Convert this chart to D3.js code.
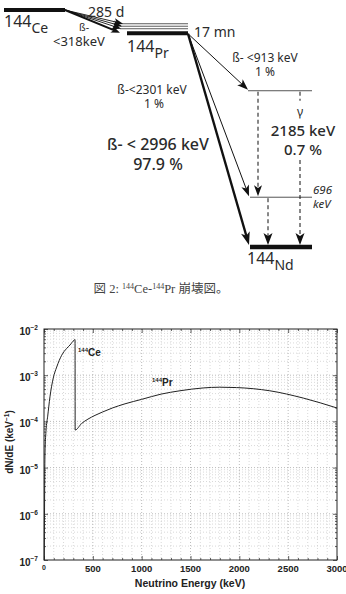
<!DOCTYPE html>
<html><head><meta charset="utf-8">
<script src="https://cdn.jsdelivr.net/npm/d3@7"></script>
<style>body{margin:0;background:#fff}svg{display:block}</style>
</head><body>
<script>
// ---------- data ----------
// decay scheme levels (keV above 144Nd ground state)
const levelNames = ["144Ce", "144Pr", "2185", "696", "144Nd"];
const levelEnergies = [3314, 2996, 2185, 696, 0];
// spectrum (Neutrino energy keV, dN/dE keV^-1)
const energies = [3, 10, 20, 38, 61, 95, 130, 181, 232, 266, 307, 318,
  319, 385, 450, 522, 600, 700, 829, 1000, 1200, 1392, 1630, 1800, 1972, 2312, 2654, 3000];
const dNdE = [1e-7, 2e-5, 6e-5, 1.3e-4, 3.4e-4, 8.7e-4, 1.5e-3, 2.7e-3, 3.8e-3, 4.5e-3, 5.7e-3, 5.9e-3,
  6.5e-5, 9.0e-5, 1.12e-4, 1.35e-4, 1.6e-4, 1.95e-4, 2.4e-4, 3.0e-4, 3.9e-4, 4.6e-4, 5.3e-4, 5.5e-4, 5.4e-4, 4.6e-4, 3.2e-4, 1.95e-4];
const xTicks = [0, 500, 1000, 1500, 2000, 2500, 3000];
const yTickExps = [-2, -3, -4, -5, -6, -7];

const W = 346, H = 594;
const svg = d3.select("body").append("svg").attr("width", W).attr("height", H);
const ink = "#2a2a2a";
const dfont = "'Noto Sans', 'DejaVu Sans', sans-serif";

// ---------- decay scheme ----------
const ey = d3.scaleLinear().domain([0, 3314]).range([247, 10]);
const g = svg.append("g");

function arrow(x1, y1, x2, y2, sw, hl, hw, dash) {
  const dx = x2 - x1, dy = y2 - y1, L = Math.hypot(dx, dy);
  const ux = dx / L, uy = dy / L;
  const bx = x2 - ux * hl, by = y2 - uy * hl;
  g.append("line").attr("x1", x1).attr("y1", y1).attr("x2", x2 - ux * hl * 0.6).attr("y2", y2 - uy * hl * 0.6)
    .attr("stroke", "#111").attr("stroke-width", sw).attr("stroke-dasharray", dash || null);
  g.append("path").attr("d", `M${x2},${y2}L${bx - uy * hw / 2},${by + ux * hw / 2}L${bx + ux * hl * 0.25},${by + uy * hl * 0.25}L${bx + uy * hw / 2},${by - ux * hw / 2}Z`)
    .attr("fill", "#111");
}
function hline(x1, x2, y, sw, col) {
  g.append("line").attr("x1", x1).attr("x2", x2).attr("y1", y).attr("y2", y)
    .attr("stroke", col).attr("stroke-width", sw);
}
const yCe = ey(levelEnergies[0]), yPr = ey(levelEnergies[1]), y2185 = ey(levelEnergies[2]),
      y696 = ey(levelEnergies[3]), yNd = ey(levelEnergies[4]);

// Ce level
hline(4, 65, yCe, 4, "#111");
// Pr levels (thin excited + thick ground)
[yPr - 9, yPr - 6.5, yPr - 4].forEach(y => hline(120, 188, y, 0.8, "#333"));
hline(127, 188, yPr + 0.5, 4, "#111");
// Ce -> Pr fan
[yPr - 9, yPr - 6.5, yPr - 4, yPr].forEach((y, i) => {
  arrow(65, yCe, 123 - i, y, i === 3 ? 2 : 0.9, 9, 7);
});
// Nd side levels
hline(248, 312, y2185, 1, "#555");
hline(250, 312, y696, 1, "#555");
hline(250, 312, yNd, 4.5, "#111");
// beta arrows from Pr
arrow(188, yPr + 1, 248, y2185 - 1, 1, 11, 8);
arrow(188, yPr + 1, 249, y696 - 1, 1, 11, 8);
arrow(188, yPr + 1, 249, yNd - 2, 2.4, 13, 9);
// gamma arrows
arrow(258, y2185 + 1, 258, y696 - 1, 1, 11, 8, "4,3");
g.append("line").attr("x1", 300).attr("x2", 300).attr("y1", y2185 + 1).attr("y2", y2185 + 10)
  .attr("stroke", "#111").attr("stroke-dasharray", "4,3");
arrow(300, 160, 300, yNd - 2, 1, 12, 9, "4,3");
arrow(268, y696 + 1, 268, yNd - 2, 1, 12, 9, "4,3");

function txt(x, y, s, size, opts = {}) {
  return g.append("text").attr("x", x).attr("y", y).text(s)
    .attr("font-family", dfont).attr("font-size", size).attr("fill", ink)
    .attr("text-anchor", opts.anchor || "start").attr("font-weight", opts.weight || 400)
    .attr("font-style", opts.italic ? "italic" : null);
}
function nuc(x, y, a, el) {
  const t = g.append("text").attr("x", x).attr("y", y).attr("font-family", dfont).attr("fill", ink);
  t.append("tspan").attr("font-size", 16).text(a);
  t.append("tspan").attr("font-size", 14).attr("dy", 6).text(el);
}
nuc(4, 27, "144", "Ce");
nuc(127, 52, "144", "Pr");
nuc(247, 264, "144", "Nd");
txt(88, 17, "285 d", 14);
txt(79, 31, "ß-", 10.5);
txt(53, 46, "<318keV", 13);
txt(194, 37, "17 mn", 14);
txt(265, 62, "ß- <913 keV", 12, {anchor: "middle"});
txt(265, 76, "1 %", 12, {anchor: "middle"});
txt(152, 94, "ß-<2301 keV", 12, {anchor: "middle"});
txt(154, 108, "1 %", 12, {anchor: "middle"});
txt(158, 150, "ß- < 2996 keV", 16, {anchor: "middle", weight: 500});
txt(158, 170, "97.9 %", 16, {anchor: "middle", weight: 500});
txt(300, 116, "γ", 12, {anchor: "middle"});
txt(303, 136, "2185 keV", 15, {anchor: "middle", weight: 500});
txt(303, 155, "0.7 %", 15, {anchor: "middle", weight: 500});
txt(313, 194, "696", 11.5, {italic: true});
txt(313, 208, "keV", 11.5, {italic: true});

// caption
const cap = svg.append("text").attr("x", 161).attr("y", 293).attr("text-anchor", "middle")
  .attr("font-family", "'Liberation Serif', 'Noto Sans CJK JP', serif").attr("font-size", 12.5).attr("fill", "#444");
cap.append("tspan").text("図 2: ");
cap.append("tspan").attr("font-size", 8).attr("dy", -4).text("144");
cap.append("tspan").attr("dy", 4).text("Ce-");
cap.append("tspan").attr("font-size", 8).attr("dy", -4).text("144");
cap.append("tspan").attr("dy", 4).text("Pr 崩壊図。");

// ---------- spectrum chart ----------
const x = d3.scaleLinear().domain([0, 3000]).range([44, 337]);
const y = d3.scaleLog().domain([1e-7, 1e-2]).range([560, 329]);
const c = svg.append("g");
const cf = "'Liberation Sans', Arial, sans-serif";

// minor grid
const minorX = d3.range(100, 3000, 100).filter(v => v % 500 !== 0);
const minorY = [];
for (let e = -7; e < -2; e++) for (let m = 2; m <= 9; m++) minorY.push(m * Math.pow(10, e));
c.selectAll(".mgx").data(minorX).join("line").attr("x1", d => x(d)).attr("x2", d => x(d))
  .attr("y1", 329).attr("y2", 560).attr("stroke", "#c8c8c8").attr("stroke-width", 0.7).attr("stroke-dasharray", "1,2");
c.selectAll(".mgy").data(minorY).join("line").attr("y1", d => y(d)).attr("y2", d => y(d))
  .attr("x1", 44).attr("x2", 337).attr("stroke", "#c8c8c8").attr("stroke-width", 0.7).attr("stroke-dasharray", "1,2");
// major grid
c.selectAll(".gx").data(xTicks.slice(1, -1)).join("line").attr("x1", d => x(d)).attr("x2", d => x(d))
  .attr("y1", 329).attr("y2", 560).attr("stroke", "#aaa").attr("stroke-width", 0.8).attr("stroke-dasharray", "1,2");
c.selectAll(".gy").data(yTickExps.slice(1, -1)).join("line").attr("y1", d => y(Math.pow(10, d))).attr("y2", d => y(Math.pow(10, d)))
  .attr("x1", 44).attr("x2", 337).attr("stroke", "#aaa").attr("stroke-width", 0.8).attr("stroke-dasharray", "1,2");

// axes (ticks inward, box)
const fmtNone = () => "";
c.append("g").attr("transform", "translate(0,560)").call(d3.axisBottom(x).tickValues(xTicks).tickSizeInner(-4).tickSizeOuter(0).tickFormat(fmtNone));
c.append("g").attr("transform", "translate(0,329)").call(d3.axisTop(x).tickValues(xTicks).tickSizeInner(-4).tickSizeOuter(0).tickFormat(fmtNone));
c.append("g").attr("transform", "translate(0,560)").call(d3.axisBottom(x).tickValues(minorX).tickSizeInner(-2).tickSizeOuter(0).tickFormat(fmtNone));
c.append("g").attr("transform", "translate(0,329)").call(d3.axisTop(x).tickValues(minorX).tickSizeInner(-2).tickSizeOuter(0).tickFormat(fmtNone));
const yMaj = yTickExps.map(e => Math.pow(10, e));
c.append("g").attr("transform", "translate(44,0)").call(d3.axisLeft(y).tickValues(yMaj).tickSizeInner(-4).tickSizeOuter(0).tickFormat(fmtNone));
c.append("g").attr("transform", "translate(337,0)").call(d3.axisRight(y).tickValues(yMaj).tickSizeInner(-4).tickSizeOuter(0).tickFormat(fmtNone));
c.append("g").attr("transform", "translate(44,0)").call(d3.axisLeft(y).tickValues(minorY).tickSizeInner(-2).tickSizeOuter(0).tickFormat(fmtNone));
c.append("g").attr("transform", "translate(337,0)").call(d3.axisRight(y).tickValues(minorY).tickSizeInner(-2).tickSizeOuter(0).tickFormat(fmtNone));
c.selectAll(".domain").remove();
c.selectAll(".tick line").attr("stroke", "#222").attr("stroke-width", 0.7);
c.append("rect").attr("x", 44).attr("y", 329).attr("width", 293).attr("height", 231)
  .attr("fill", "none").attr("stroke", "#222").attr("stroke-width", 1);

// tick labels
c.selectAll(".xl").data(xTicks).join("text").attr("x", d => x(d)).attr("y", d => d === 0 ? 570 : 572)
  .attr("text-anchor", "middle").attr("font-family", cf).attr("font-weight", "bold")
  .attr("font-size", d => d === 0 ? 7 : 9.5).attr("fill", "#222").text(d => d);
const yl = c.selectAll(".yl").data(yTickExps).join("text").attr("x", 38).attr("y", d => y(Math.pow(10, d)) + 6)
  .attr("text-anchor", "end").attr("font-family", cf).attr("font-weight", "bold").attr("font-size", 10).attr("fill", "#222");
yl.append("tspan").text("10");
yl.append("tspan").attr("dy", -5).attr("font-size", 6.5).text(d => "\u2212" + Math.abs(d));

// axis titles
c.append("text").attr("x", 190).attr("y", 587).attr("text-anchor", "middle").attr("font-family", cf)
  .attr("font-weight", "bold").attr("font-size", 10.5).attr("fill", "#222").text("Neutrino Energy (keV)");
const yt = c.append("text").attr("transform", "translate(13,442) rotate(-90)").attr("text-anchor", "middle")
  .attr("font-family", cf).attr("font-weight", "bold").attr("font-size", 10).attr("fill", "#222");
yt.append("tspan").text("dN/dE (keV");
yt.append("tspan").attr("dy", -4).attr("font-size", 6.5).text("\u22121");
yt.append("tspan").attr("dy", 4).text(")");

// curve
const pts = energies.map((e, i) => [e, dNdE[i]]);
c.append("path").datum(pts).attr("fill", "none").attr("stroke", "#222").attr("stroke-width", 1)
  .attr("d", d3.line().x(d => x(d[0])).y(d => y(d[1])).curve(d3.curveMonotoneX));

// curve labels
function clabel(xp, yp, a, el) {
  const t = c.append("text").attr("x", xp).attr("y", yp).attr("font-family", cf).attr("font-weight", "bold").attr("fill", "#222");
  t.append("tspan").attr("font-size", 6).attr("dy", -4).text(a);
  t.append("tspan").attr("font-size", 10).attr("dy", 4).text(el);
}
clabel(78, 356, "144", "Ce");
clabel(152, 386, "144", "Pr");
</script>
</body></html>
